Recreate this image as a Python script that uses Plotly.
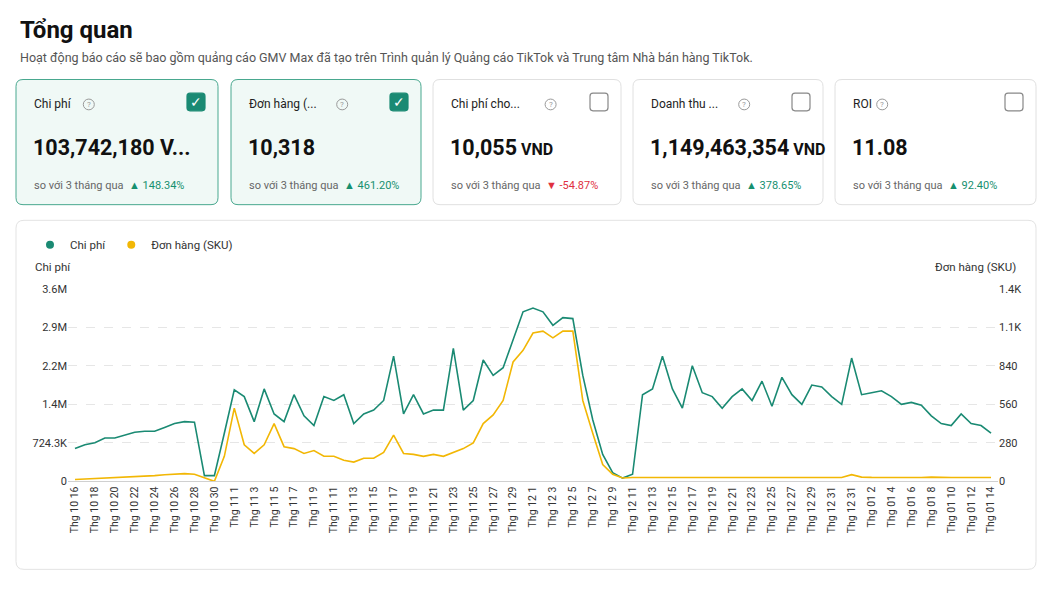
import plotly.graph_objects as go

W, H = 1044, 584
OFF = 8
GREEN = "#1a8a73"
YELLOW = "#f2b705"

cost_frac = [0.17,0.19,0.2,0.225,0.225,0.24,0.255,0.26,0.26,0.28,0.3,0.31,0.307,0.03,0.03,0.25,0.475,0.44,0.31,0.48,
             0.35,0.31,0.45,0.34,0.29,0.44,0.42,0.45,0.30,0.35,0.37,0.42,0.65,0.35,0.45,0.35,0.37,0.37,0.69,0.37,
             0.42,0.63,0.55,0.59,0.74,0.88,0.90,0.88,0.81,0.85,0.845,0.55,0.32,0.14,0.045,0.017,0.037,0.45,0.48,0.65,
             0.48,0.38,0.6,0.46,0.44,0.38,0.44,0.48,0.42,0.52,0.39,0.54,0.45,0.40,0.5,0.49,0.44,0.4,0.64,0.45,
             0.46,0.47,0.44,0.40,0.41,0.395,0.34,0.30,0.29,0.35,0.30,0.29,0.25]
order_frac = [0.01,0.012,0.014,0.016,0.018,0.02,0.024,0.028,0.03,0.034,0.037,0.04,0.037,0.017,0.0,0.13,0.38,0.19,0.145,0.19,
              0.3,0.18,0.17,0.145,0.16,0.13,0.13,0.11,0.10,0.12,0.12,0.15,0.24,0.145,0.14,0.13,0.14,0.13,0.15,0.17,
              0.2,0.3,0.345,0.42,0.62,0.68,0.77,0.78,0.745,0.78,0.78,0.42,0.25,0.087,0.037,0.017,0.02,0.02,0.02,0.022,
              0.02,0.02,0.02,0.02,0.02,0.02,0.02,0.02,0.02,0.02,0.02,0.02,0.02,0.02,0.02,0.02,0.02,0.02,0.035,0.022,
              0.021,0.02,0.02,0.02,0.02,0.02,0.022,0.02,0.02,0.02,0.02,0.02,0.02]
COST_MAX = 3621500
ORDER_MAX = 1400
cost = [round(f * COST_MAX) for f in cost_frac]
orders = [round(f * ORDER_MAX) for f in order_frac]

tick_labels = (["Thg 10 %d" % d for d in range(16, 31, 2)] +
               ["Thg 11 %d" % d for d in range(1, 30, 2)] +
               ["Thg 12 %d" % d for d in range(1, 32, 2)] + ["Thg 12 31"] +
               ["Thg 01 %d" % d for d in range(2, 15, 2)])
x = list(range(len(cost)))
tickvals = [2 * k for k in range(len(tick_labels))]

cards = [
    ("Chi phí", "103,742,180 V...", "", "▲ 148.34%", True),
    ("Đơn hàng (...", "10,318", "", "▲ 461.20%", True),
    ("Chi phí cho...", "10,055", " VND", "▼ -54.87%", False),
    ("Doanh thu ...", "1,149,463,354", " VND", "▲ 378.65%", False),
    ("ROI", "11.08", "", "▲ 92.40%", False),
]
card_x = [(16, 218), (231, 421), (433, 621), (633, 823), (835, 1036)]

fig = go.Figure()
fig.add_trace(go.Scatter(x=x, y=cost, name="Chi phí", mode="lines", showlegend=False,
                         line=dict(color=GREEN, width=1.6), yaxis="y"))
fig.add_trace(go.Scatter(x=x, y=orders, name="Đơn hàng (SKU)", mode="lines", showlegend=False,
                         line=dict(color=YELLOW, width=1.6), yaxis="y2"))
# legend entries (circle markers)
fig.add_trace(go.Scatter(x=[None], y=[None], name="Chi phí", mode="markers",
                         marker=dict(color=GREEN, size=8)))
fig.add_trace(go.Scatter(x=[None], y=[None], name="Đơn hàng (SKU)", mode="markers",
                         marker=dict(color=YELLOW, size=8)))

def px(xp): return (xp - OFF) / W
def py(yp): return 1 - (yp - OFF) / H

def rrect(x0, y0, x1, y1, r):
    X0, X1 = px(x0), px(x1)
    Y0, Y1 = py(y0), py(y1)
    rx, ry = r / W, r / H
    return (f"M{X0+rx},{Y0} L{X1-rx},{Y0} Q{X1},{Y0} {X1},{Y0-ry} L{X1},{Y1+ry} Q{X1},{Y1} {X1-rx},{Y1} "
            f"L{X0+rx},{Y1} Q{X0},{Y1} {X0},{Y1+ry} L{X0},{Y0-ry} Q{X0},{Y0} {X0+rx},{Y0} Z")

def A(xp, yp, text, size, color="#222", anchor="left"):
    return dict(x=px(xp), y=py(yp), xref="paper", yref="paper", text=text, showarrow=False,
                xanchor=anchor, yanchor="middle", font=dict(size=size, color=color))

shapes, ann = [], []
shapes.append(dict(type="path", xref="paper", yref="paper", path=rrect(16, 219, 1036, 576, 8),
                   line=dict(color="#e3e3e3", width=1), fillcolor="white", layer="below"))
for (lab, val, unit, chg, sel), (x0, x1) in zip(cards, card_x):
    shapes.append(dict(type="path", xref="paper", yref="paper", path=rrect(x0, 75, x1, 203, 7),
                       line=dict(color="#49a88f" if sel else "#e0e0e0", width=1),
                       fillcolor="#f0f9f6" if sel else "white", layer="below"))
    ann.append(A(x0 + 16, 100, lab, 12))
    qx = x0 + 16 + len(lab) * 6.4 + 12
    shapes.append(dict(type="circle", xref="paper", yref="paper", x0=px(qx - 5.5), x1=px(qx + 5.5),
                       y0=py(106), y1=py(95), line=dict(color="#999", width=1)))
    ann.append(A(qx, 100.5, "?", 8, "#999", "center"))
    bx = x1 - 22
    shapes.append(dict(type="path", xref="paper", yref="paper", path=rrect(bx - 9, 89, bx + 9, 107, 3),
                       line=dict(color=GREEN if sel else "#888", width=1.2),
                       fillcolor=GREEN if sel else "white"))
    if sel:
        ann.append(A(bx, 98, "✓", 14, "white", "center"))
    ann.append(A(x0 + 15, 145, f"<b>{val}</b>" + (f"<b style='font-size:16px'>{unit}</b>" if unit else ""),
                 21.5, "#111"))
    col = "#e0303f" if chg.startswith("▼") else "#16906f"
    ann.append(A(x0 + 16, 183,
                 f"<span style='color:#666'>so với 3 tháng qua</span>  <span style='color:{col}'>{chg}</span>", 11))

ann.append(A(18, 24, "<b>Tổng quan</b>", 24, "#111"))
ann.append(A(18, 52, "Hoạt động báo cáo sẽ bao gồm quảng cáo GMV Max đã tạo trên Trình quản lý Quảng cáo TikTok và Trung tâm Nhà bán hàng TikTok.",
             12.5, "#555"))
ann.append(A(33, 267, "Chi phí", 11.5, "#333"))
ann.append(A(1018, 267, "Đơn hàng (SKU)", 11.5, "#333", "right"))

fig.update_layout(
    width=W, height=H, margin=dict(l=0, r=0, t=0, b=0),
    paper_bgcolor="white", plot_bgcolor="white",
    font=dict(family="Roboto, Noto Sans, sans-serif", color="#333"),
    shapes=shapes, annotations=ann,
    legend=dict(orientation="h", x=px(30), y=py(244), yanchor="middle", xanchor="left",
                font=dict(size=11.5, color="#333"), itemwidth=30, bgcolor="rgba(0,0,0,0)"),
    xaxis=dict(domain=[px(68), px(998)], range=[-0.7, 92.7], tickvals=tickvals, ticktext=tick_labels,
               tickangle=-90, tickfont=dict(size=10.5, color="#333"), showgrid=False,
               showline=True, linecolor="#d0d0d0", ticks="", zeroline=False),
    yaxis=dict(domain=[py(486), py(289)], range=[0, COST_MAX],
               tickvals=[0, 724300, 1448600, 2172900, 2897200, 3621500],
               ticktext=["0", "724.3K", "1.4M", "2.2M", "2.9M", "3.6M"],
               tickfont=dict(size=11, color="#333"), gridcolor="#e6e6e6", griddash="dash", zeroline=False),
    yaxis2=dict(overlaying="y", side="right", range=[0, ORDER_MAX],
                tickvals=[0, 280, 560, 840, 1120, 1400],
                ticktext=["0", "280", "560", "840", "1.1K", "1.4K"],
                tickfont=dict(size=11, color="#333"), showgrid=False, zeroline=False),
)
fig.write_html("out.html")
